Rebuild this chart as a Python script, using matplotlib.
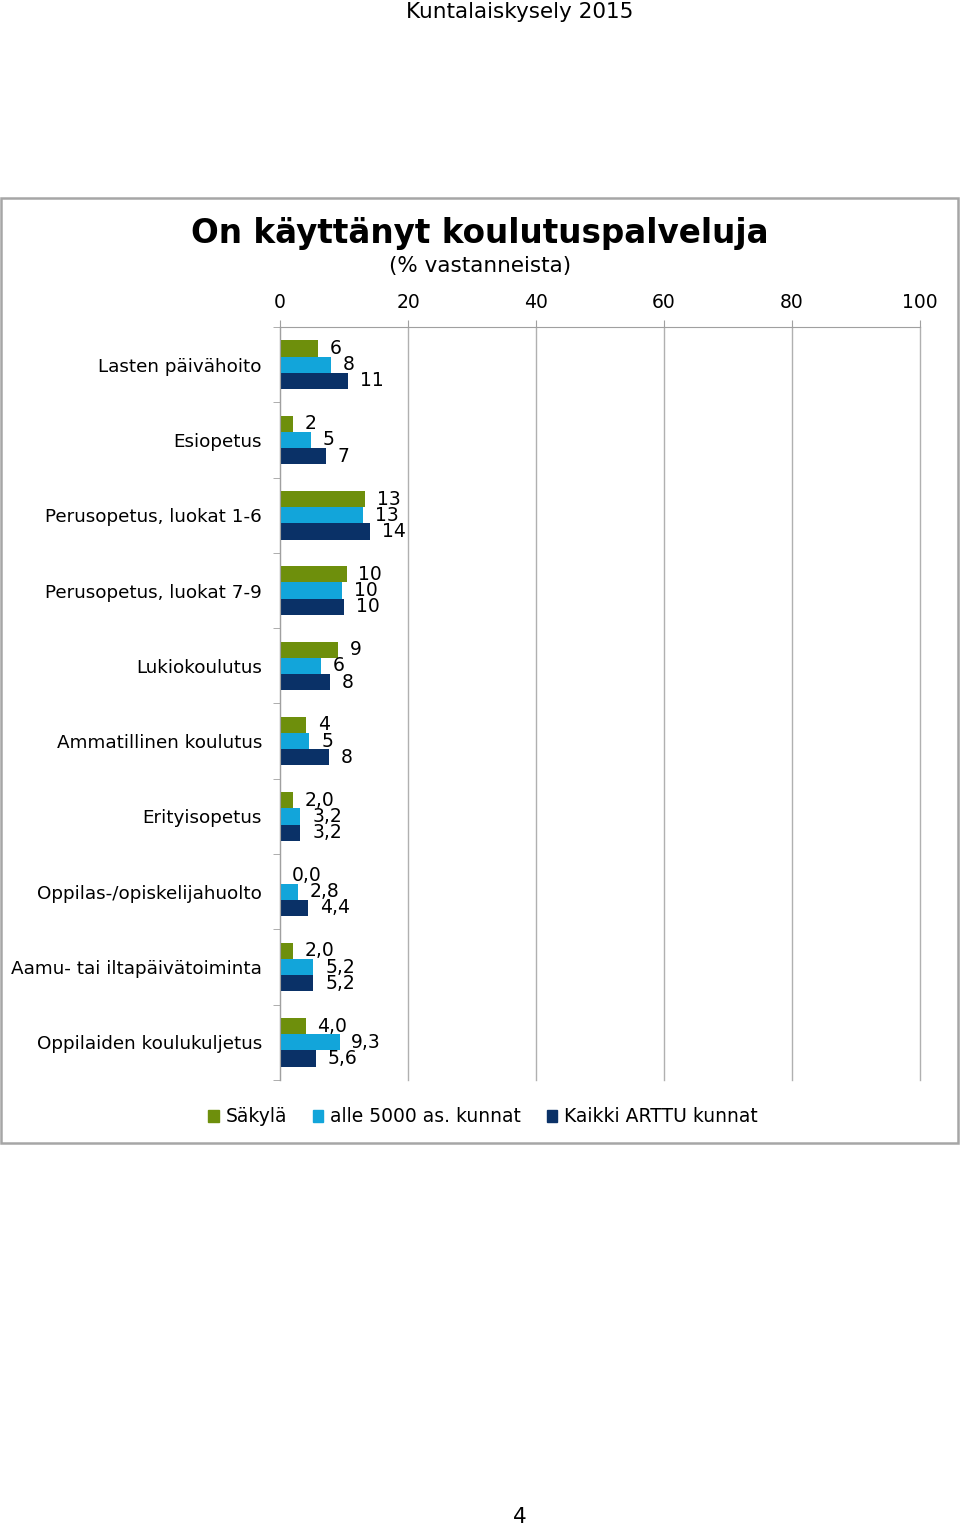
import matplotlib
matplotlib.use("Agg")
import matplotlib.pyplot as plt
from matplotlib.patches import Rectangle, Patch
import numpy as np

plt.rcParams['font.family'] = ['DejaVu Sans']

categories = ["Lasten päivähoito", "Esiopetus", "Perusopetus, luokat 1-6",
              "Perusopetus, luokat 7-9", "Lukiokoulutus", "Ammatillinen koulutus",
              "Erityisopetus", "Oppilas-/opiskelijahuolto",
              "Aamu- tai iltapäivätoiminta", "Oppilaiden koulukuljetus"]
series_names = ["Säkylä", "alle 5000 as. kunnat", "Kaikki ARTTU kunnat"]
sakyla = [5.9, 2.0, 13.3, 10.4, 9.1, 4.1, 2.0, 0.0, 2.0, 4.0]
alle5000 = [8.0, 4.8, 13.0, 9.7, 6.4, 4.6, 3.2, 2.8, 5.2, 9.3]
kaikki = [10.6, 7.2, 14.1, 10.0, 7.8, 7.7, 3.2, 4.4, 5.2, 5.6]
decimals = [0, 0, 0, 0, 0, 0, 1, 1, 1, 1]
colors = ["#6E8F0C", "#12A5DA", "#0A3167"]
xticks = [0, 20, 40, 60, 80, 100]

W, H = 960, 1525
fig = plt.figure(figsize=(W/100, H/100), dpi=100)

# frame box
fig.patches.append(Rectangle((1/W, 1-1143/H), 957/W, (1143-198)/H, transform=fig.transFigure,
                             fill=False, edgecolor="#A6A6A6", linewidth=1.8))

fig.text(520/W, 1-12/H, "Kuntalaiskysely 2015", ha="center", va="center", fontsize=15.5)
fig.text(520/W, 1-1517/H, "4", ha="center", va="center", fontsize=15.5)
fig.text(480/W, 1-233/H, "On käyttänyt koulutuspalveluja", ha="center", va="center",
         fontsize=23.5, fontweight="bold")
fig.text(480/W, 1-266/H, "(% vastanneista)", ha="center", va="center", fontsize=15.5)

ax = fig.add_axes([280/W, 1-1080/H, 640/W, (1080-327)/H])
n = len(categories)
y = np.arange(n)
h = 0.215
all_series = [sakyla, alle5000, kaikki]
for k, (vals, col, name) in enumerate(zip(all_series, colors, series_names)):
    ypos = y + (k-1)*h
    ax.barh(ypos, vals, height=h, color=col, label=name)
    for yi, v, d in zip(ypos, vals, decimals):
        lab = f"{v:.{d}f}".replace(".", ",")
        ax.annotate(lab, (v, yi), xytext=(8.5, 0), textcoords="offset points",
                    ha="left", va="center", fontsize=13.5)

ax.set_xlim(0, 100)
ax.set_ylim(n-0.5, -0.5)
ax.xaxis.tick_top()
ax.set_xticks(xticks)
ax.set_xticklabels([str(t) for t in xticks], fontsize=13.5)
ax.tick_params(axis="x", length=5, color="#A0A0A0", pad=6)
ax.set_yticks(y)
ax.set_yticklabels(categories, fontsize=13.2)
ax.set_yticks(np.arange(n+1)-0.5, minor=True)
ax.tick_params(axis="y", which="major", length=0, pad=13)
ax.tick_params(axis="y", which="minor", length=5, color="#A0A0A0")
ax.grid(axis="x", color="#B0B0B0", linewidth=1)
for gl in ax.get_xgridlines():
    gl.set_clip_on(False)
ax.set_axisbelow(True)
for s in ["right", "bottom"]:
    ax.spines[s].set_visible(False)
ax.spines["top"].set_color("#A0A0A0")
ax.spines["left"].set_color("#A0A0A0")

handles = [Patch(facecolor=c, edgecolor=c) for c in colors]
fig.legend(handles, series_names, loc="center", bbox_to_anchor=(483/W, 1-1117/H), ncol=3,
           frameon=False, fontsize=13.5, handlelength=0.55, handleheight=0.55,
           handletextpad=0.35, columnspacing=1.4)

fig.savefig("out.png", dpi=100)
